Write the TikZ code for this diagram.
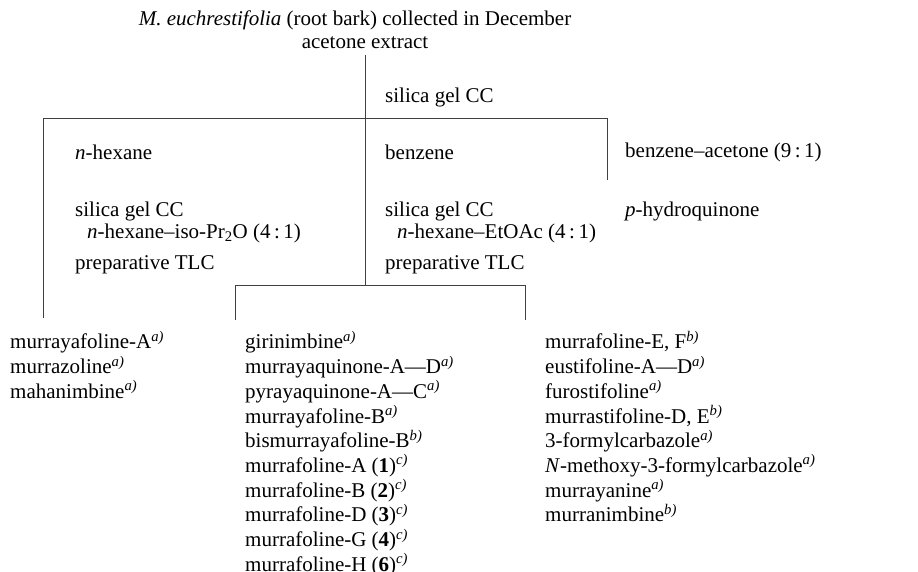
\documentclass[tikz,border=0pt]{standalone}
\usepackage{fontspec}
\setmainfont{Liberation Serif}
\newcommand\fnm[1]{\textsuperscript{\itshape #1)}}
\begin{document}
\begin{tikzpicture}[x=1pt,y=-1pt,
  every node/.style={inner sep=0pt, font=\fontsize{21}{24.7}\selectfont},
  lbl/.style={anchor=west},
  lst/.style={anchor=north west, align=left},
  conn/.style={line width=0.9pt, draw=black!75}]
\useasboundingbox (0,0) rectangle (918,572);
\node (title) at (355,20) {\textit{M. euchrestifolia} (root bark) collected in December};
\node (extract) at (365,43) {acetone extract};
\node[lbl] (cc0) at (385,97) {silica gel CC};
\node[lbl] (hex) at (75,152) {\textit{n}-hexane};
\node[lbl] (benz) at (385,152) {benzene};
\node[lbl] (bzac) at (625,152) {benzene--acetone (9\,:\,1)};
\node[lbl] (cc1) at (75,211) {silica gel CC};
\node[lbl] (cc2) at (385,211) {silica gel CC};
\node[lbl] (pq) at (625,211) {\textit{p}-hydroquinone};
\node[lbl] (el1) at (87,233) {\textit{n}-hexane--iso-Pr\textsubscript{2}O (4\,:\,1)};
\node[lbl] (el2) at (397,233) {\textit{n}-hexane--EtOAc (4\,:\,1)};
\node[lbl] (tlc1) at (75,265) {preparative TLC};
\node[lbl] (tlc2) at (385,265) {preparative TLC};
\node[lst] (L1) at (10,331) {murrayafoline-A\fnm{a}\\murrazoline\fnm{a}\\mahanimbine\fnm{a}};
\node[lst] (L2) at (245,331) {girinimbine\fnm{a}\\murrayaquinone-A---D\fnm{a}\\pyrayaquinone-A---C\fnm{a}\\murrayafoline-B\fnm{a}\\bismurrayafoline-B\fnm{b}\\murrafoline-A (\textbf{1})\fnm{c}\\murrafoline-B (\textbf{2})\fnm{c}\\murrafoline-D (\textbf{3})\fnm{c}\\murrafoline-G (\textbf{4})\fnm{c}\\murrafoline-H (\textbf{6})\fnm{c}};
\node[lst] (L3) at (545,331) {murrafoline-E, F\fnm{b}\\eustifoline-A---D\fnm{a}\\furostifoline\fnm{a}\\murrastifoline-D, E\fnm{b}\\3-formylcarbazole\fnm{a}\\\textit{N}-methoxy-3-formylcarbazole\fnm{a}\\murrayanine\fnm{a}\\murranimbine\fnm{b}};
\coordinate (j1) at (365,118);
\coordinate (jl) at (43,118);
\coordinate (jr) at (607,118);
\coordinate (lend) at (43,318);
\coordinate (rend) at (607,180);
\coordinate (j2) at (365,285);
\coordinate (j2l) at (235,285);
\coordinate (j2r) at (525,285);
\coordinate (ml) at (235,320);
\coordinate (mr) at (525,320);
\draw[conn] ([yshift=-6pt]extract.south) -- (j2);
\draw[conn] (lend) -- (jl) -- (jr) -- (rend);
\draw[conn] (ml) -- (j2l) -- (j2r) -- (mr);
\end{tikzpicture}
\end{document}
